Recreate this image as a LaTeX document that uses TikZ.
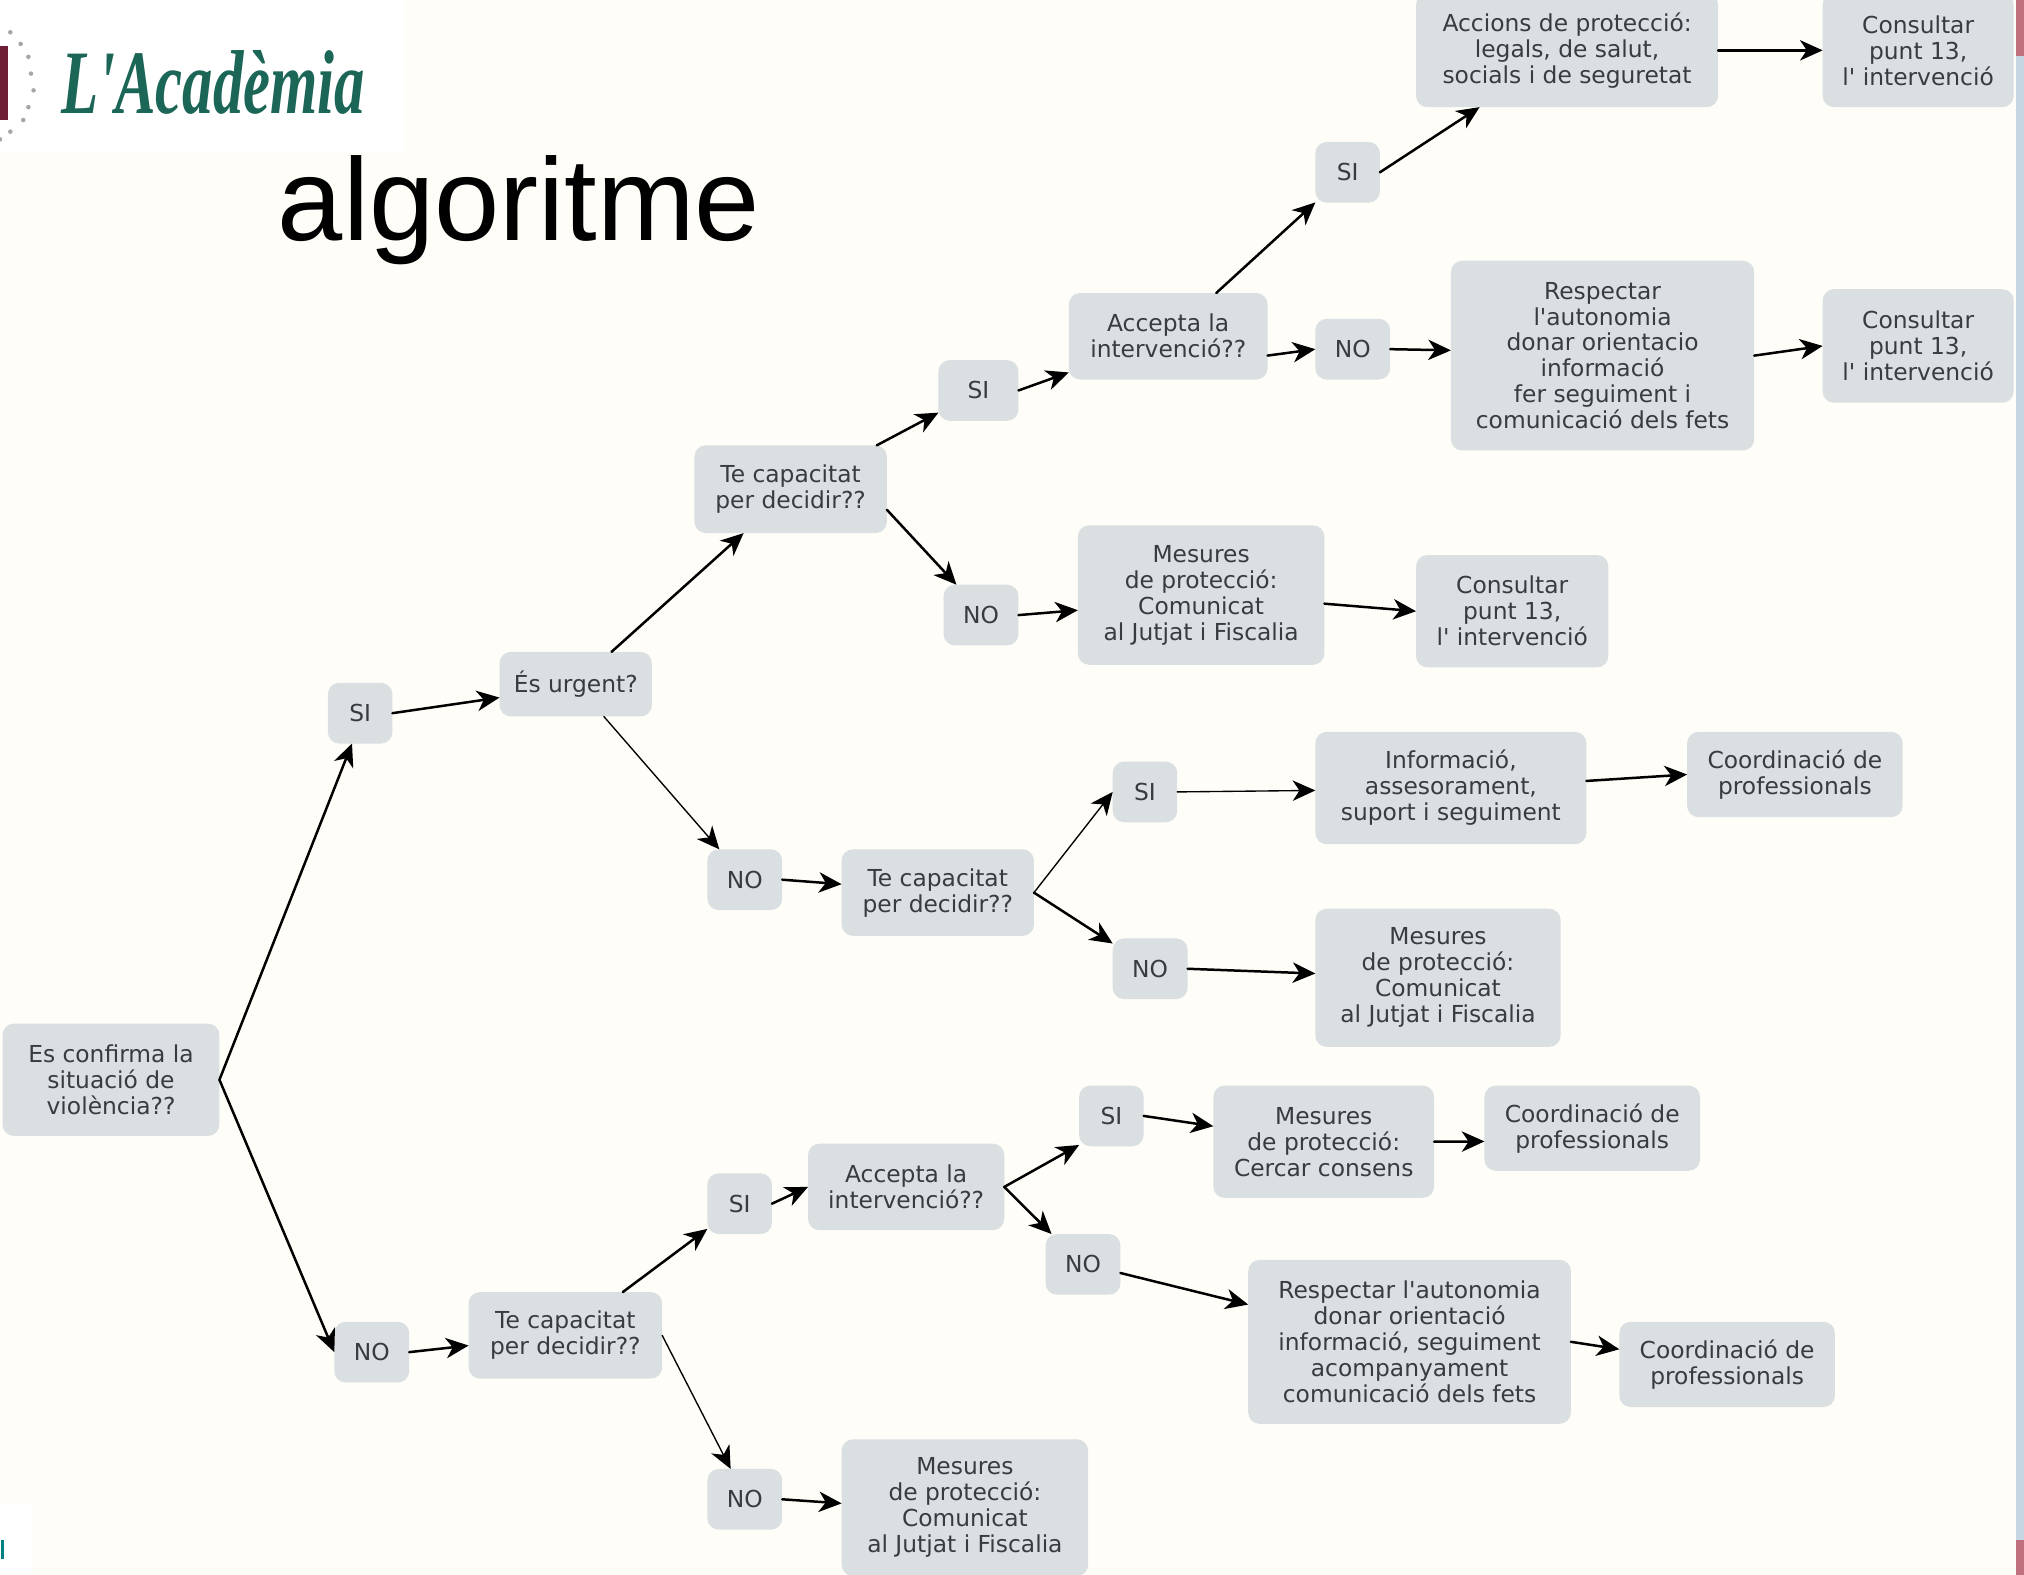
\documentclass[tikz,border=0pt]{standalone}
\usepackage{fontspec}
\setmainfont{DejaVu Sans}[Ligatures=TeXOff]
\newfontfamily\titlefont{Liberation Sans}
\newfontfamily\logofont{Liberation Serif}
\usetikzlibrary{arrows.meta}

\begin{document}
\begin{tikzpicture}
	[x=.02cm,y=-.02cm,line cap=round,
	%Styles
	infobox/.style 2 args={rectangle,rounded corners=5pt,fill=boxcolor,text=textcolor,align=center,inner sep=0pt,outer sep=0pt,font=\fontsize{10.3}{11.45}\selectfont,minimum width=#1*.02cm,minimum height=#2*.02cm},
	link/.style={-{Stealth[length=10pt,width=9pt,inset=3pt]},line width=1.1pt,black},
	thin link/.style={link,line width=.6pt},
	decor dot/.style={circle,fill=gray!70,inner sep=0pt,minimum size=2pt}
	]

	%Colors
	\definecolor{boxcolor}{HTML}{DADFE1}
	\definecolor{textcolor}{HTML}{383C3E}
	\definecolor{paper}{HTML}{FFFDF8}
	\definecolor{logogreen}{HTML}{1C6658}
	\definecolor{logored}{HTML}{6E1F35}
	\definecolor{edgeblue}{HTML}{C6D6E3}
	\definecolor{edgered}{HTML}{C0707C}

	\useasboundingbox (0,0) rectangle (1568,1220);
	\clip (0,0) rectangle (1568,1220);
	\fill[paper] (0,0) rectangle (1568,1220);

	%Page furniture
	\fill[white] (0,0) rectangle (313,118);
	\fill[logored] (0,36) rectangle (6,93);
	\foreach \x/\y in {8/25,16/34,22/44,24/57,26/70,22/83,18/93,8/102,0/108}
		\node[decor dot] at (\x,\y) {};
	\node[anchor=base west,text=logogreen,inner sep=0pt,font=\logofont\itshape\bfseries\fontsize{40}{40}\selectfont] (logo) at (47,88) {\scalebox{.67}[1]{L'Acadèmia}};
	\node[anchor=base west,inner sep=0pt,font=\titlefont\fontsize{51.7}{51.7}\selectfont] (title) at (215,186) {algoritme};
	\fill[white] (0,1165) rectangle (25,1220);
	\fill[teal] (1,1193) rectangle (3,1208);
	\fill[edgeblue] (1562,0) rectangle (1568,1220);
	\fill[edgered] (1562,0) rectangle (1568,43);
	\fill[edgered] (1562,1193) rectangle (1568,1220);

	%The boxes
	\node[infobox={168}{87}] (confirma) at (86,836.5) {Es confirma la\\situació de\\violència??};
	\node[infobox={50}{47}] (si1) at (279,552.5) {SI};
	\node[infobox={58}{47}] (no1) at (288,1047.5) {NO};
	\node[infobox={118}{50}] (urgent) at (446,530) {És urgent?};

	\node[infobox={149}{68}] (capA) at (612.5,379) {Te capacitat\\per decidir??};
	\node[infobox={62}{47}] (siA) at (758,302.5) {SI};
	\node[infobox={58}{47}] (noA) at (760,476.5) {NO};
	\node[infobox={154}{67}] (acceptaA) at (905,260.5) {Accepta la\\intervenció??};
	\node[infobox={50}{47}] (siAA) at (1044,133.5) {SI};
	\node[infobox={58}{47}] (noAA) at (1048,270.5) {NO};
	\node[infobox={234}{88}] (accions) at (1214,39) {Accions de protecció:\\legals, de salut,\\socials i de seguretat};
	\node[infobox={148}{88}] (consultarA) at (1486,39) {Consultar\\punt 13,\\l' intervenció};
	\node[infobox={235}{147}] (respectarA) at (1241.5,275.5) {Respectar\\l'autonomia\\donar orientacio\\informació\\fer seguiment i\\comunicació dels fets};
	\node[infobox={148}{88}] (consultarB) at (1486,268) {Consultar\\punt 13,\\l' intervenció};
	\node[infobox={191}{108}] (mesuresA) at (930.5,461) {Mesures\\de protecció:\\Comunicat\\al Jutjat i Fiscalia};
	\node[infobox={149}{87}] (consultarC) at (1171.5,473.5) {Consultar\\punt 13,\\l' intervenció};

	\node[infobox={58}{47}] (noB) at (577,681.5) {NO};
	\node[infobox={149}{67}] (capB) at (726.5,691.5) {Te capacitat\\per decidir??};
	\node[infobox={50}{47}] (siB) at (887,613.5) {SI};
	\node[infobox={58}{47}] (noBB) at (891,750.5) {NO};
	\node[infobox={210}{87}] (informacio) at (1124,610.5) {Informació,\\assesorament,\\suport i seguiment};
	\node[infobox={167}{66}] (coordA) at (1390.5,600) {Coordinació de\\professionals};
	\node[infobox={190}{107}] (mesuresB) at (1114,757.5) {Mesures\\de protecció:\\Comunicat\\al Jutjat i Fiscalia};

	\node[infobox={150}{67}] (capC) at (438,1034.5) {Te capacitat\\per decidir??};
	\node[infobox={50}{47}] (siC) at (573,932.5) {SI};
	\node[infobox={58}{47}] (noC) at (577,1161.5) {NO};
	\node[infobox={152}{67}] (acceptaC) at (702,919.5) {Accepta la\\intervenció??};
	\node[infobox={50}{47}] (siCC) at (861,864.5) {SI};
	\node[infobox={58}{47}] (noCC) at (839,979.5) {NO};
	\node[infobox={171}{87}] (mesuresC) at (1025.5,884.5) {Mesures\\de protecció:\\Cercar consens};
	\node[infobox={167}{66}] (coordB) at (1233.5,874) {Coordinació de\\professionals};
	\node[infobox={250}{127}] (respectarC) at (1092,1039.5) {Respectar l'autonomia\\donar orientació\\informació, seguiment\\acompanyament\\comunicació dels fets};
	\node[infobox={167}{66}] (coordC) at (1338,1057) {Coordinació de\\professionals};
	\node[infobox={191}{106}] (mesuresD) at (747.5,1168) {Mesures\\de protecció:\\Comunicat\\al Jutjat i Fiscalia};

	%The links
	\draw[link] (confirma.east) -- (si1.-105);
	\draw[link] (confirma.east) -- (no1.west);
	\draw[link] (si1.east) -- (urgent.190);
	\draw[link] (urgent.42) -- (capA.223);
	\draw[thin link] (urgent.-49) -- (noB.130);

	\draw[link] (capA.27) -- (siA.209);
	\draw[link] (capA.-12) -- (noA.129);
	\draw[link] (siA.east) -- (acceptaA.200);
	\draw[link] (noA.east) -- (mesuresA.187);
	\draw[link] (mesuresA.-4) -- (consultarC.west);
	\draw[link] (acceptaA.42) -- (siAA.223);
	\draw[link] (acceptaA.-11) -- (noAA.west);
	\draw[link] (siAA.east) -- (accions.213);
	\draw[link] (noAA.east) -- (respectarA.178);
	\draw[link] (accions.east) -- (consultarA.west);
	\draw[link] (respectarA.east) -- (consultarB.west);

	\draw[link] (noB.east) -- (capB.175);
	\draw[thin link] (capB.east) -- (siB.west);
	\draw[link] (capB.east) -- (noBB.146);
	\draw[thin link] (siB.east) -- (informacio.181);
	\draw[link] (informacio.3) -- (coordA.west);
	\draw[link] (noBB.east) -- (mesuresB.178);

	\draw[link] (no1.east) -- (capC.186);
	\draw[link] (capC.37) -- (siC.218);
	\draw[thin link] (capC.east) -- (noC.115);
	\draw[link] (siC.east) -- (acceptaC.west);
	\draw[link] (noC.east) -- (mesuresD.178);
	\draw[link] (acceptaC.east) -- (siCC.222);
	\draw[link] (acceptaC.east) -- (noCC.136);
	\draw[link] (siCC.east) -- (mesuresC.172);
	\draw[link] (mesuresC.east) -- (coordB.187);
	\draw[link] (noCC.-13) -- (respectarC.167);
	\draw[link] (respectarC.east) -- (coordC.172);
\end{tikzpicture}
\end{document}
